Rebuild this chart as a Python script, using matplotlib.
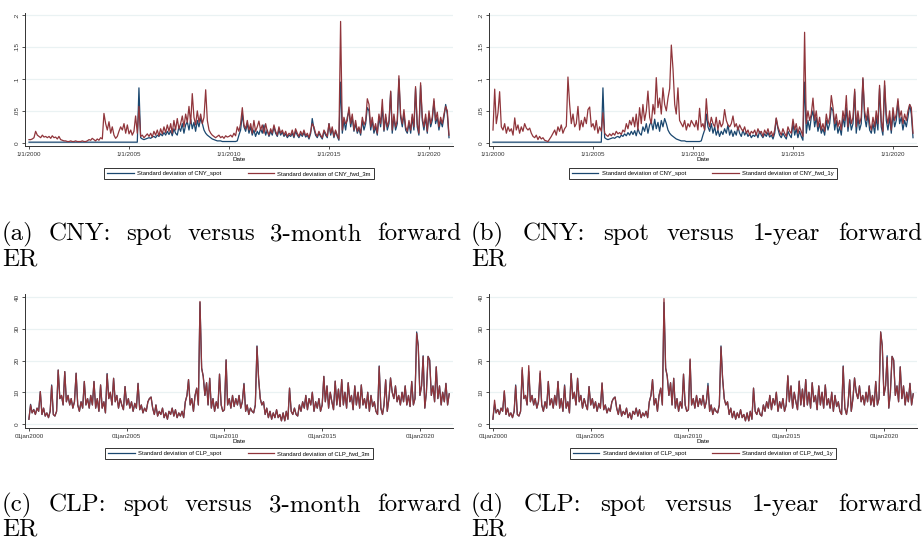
import numpy as np
import pandas as pd
import matplotlib
matplotlib.use("Agg")
import matplotlib.pyplot as plt

# ---------------- data (monthly) ----------------
cny_spot = [
    .001,.001,.001,.001,.001,.001,.001,.001,.001,.001,.001,.001,  # 2000
    .001,.001,.001,.001,.001,.001,.001,.001,.001,.001,.001,.001,  # 2001
    .001,.001,.001,.001,.001,.001,.001,.001,.001,.001,.001,.001,  # 2002
    .001,.001,.001,.001,.001,.001,.001,.001,.001,.001,.001,.001,  # 2003
    .001,.001,.001,.001,.001,.001,.001,.001,.001,.001,.001,.001,  # 2004
    .001,.001,.001,.001,.001,.001,.086,.008,.006,.005,.006,.007,  # 2005
    .008,.007,.009,.010,.008,.012,.010,.014,.011,.016,.012,.018,  # 2006
    .013,.019,.011,.022,.015,.012,.025,.018,.030,.015,.028,.033,  # 2007
    .020,.037,.022,.032,.018,.035,.025,.038,.030,.020,.015,.012,  # 2008
    .010,.008,.006,.005,.004,.003,.003,.003,.002,.002,.002,.002,  # 2009
    .002,.002,.002,.002,.002,.003,.012,.020,.045,.025,.018,.030,  # 2010
    .015,.025,.012,.020,.010,.018,.013,.022,.015,.028,.012,.020,  # 2011
    .010,.018,.012,.025,.015,.010,.020,.012,.017,.010,.014,.008,  # 2012
    .012,.010,.015,.008,.018,.012,.008,.014,.010,.016,.009,.012,  # 2013
    .006,.015,.038,.022,.012,.008,.015,.010,.006,.018,.012,.008,  # 2014
    .030,.012,.022,.008,.018,.010,.004,.095,.015,.035,.020,.040,  # 2015
    .050,.025,.040,.018,.030,.015,.022,.012,.035,.020,.030,.055,  # 2016
    .050,.020,.035,.015,.025,.012,.040,.025,.055,.018,.040,.020,  # 2017
    .030,.080,.015,.040,.020,.030,.100,.040,.025,.045,.020,.015,  # 2018
    .030,.015,.040,.020,.085,.025,.012,.090,.035,.020,.040,.015,  # 2019
    .045,.025,.035,.065,.030,.040,.020,.035,.025,.040,.060,.045,  # 2020
    .008,                                                          # 2021
]
cny_fwd_3m = [
    .005,.005,.006,.008,.018,.012,.010,.008,.012,.009,.010,.008,
    .010,.007,.011,.008,.009,.006,.010,.005,.004,.003,.003,.002,
    .002,.003,.002,.002,.003,.002,.002,.002,.003,.002,.002,.003,
    .005,.004,.007,.005,.003,.006,.004,.008,.006,.046,.030,.020,
    .033,.015,.025,.012,.007,.010,.018,.025,.020,.030,.015,.028,
    .014,.020,.012,.018,.042,.015,.057,.010,.012,.008,.011,.014,
    .010,.015,.009,.018,.012,.020,.011,.022,.014,.025,.016,.028,
    .018,.030,.015,.035,.020,.038,.022,.030,.042,.025,.045,.032,
    .057,.030,.077,.040,.028,.050,.032,.045,.030,.040,.083,.035,
    .020,.015,.012,.010,.008,.010,.012,.008,.010,.007,.011,.009,
    .010,.012,.009,.015,.011,.025,.018,.030,.055,.028,.022,.035,
    .020,.030,.015,.035,.018,.025,.034,.020,.028,.015,.030,.018,
    .012,.022,.015,.028,.018,.012,.025,.015,.020,.012,.018,.010,
    .015,.012,.020,.010,.022,.015,.010,.018,.012,.020,.011,.015,
    .008,.018,.030,.025,.015,.010,.018,.012,.008,.020,.015,.010,
    .030,.015,.025,.010,.020,.012,.006,.190,.020,.040,.030,.035,
    .056,.030,.045,.020,.035,.018,.025,.015,.040,.028,.035,.069,
    .060,.025,.040,.020,.030,.015,.045,.030,.068,.020,.045,.025,
    .035,.081,.020,.045,.025,.035,.105,.045,.030,.052,.025,.018,
    .035,.020,.045,.025,.088,.030,.015,.094,.040,.025,.045,.018,
    .050,.030,.040,.069,.035,.048,.025,.040,.030,.045,.057,.050,
    .012,
]
cny_fwd_1y = [
    .020,.084,.030,.047,.080,.025,.020,.030,.015,.025,.018,.022,
    .012,.039,.020,.028,.015,.025,.018,.030,.023,.020,.023,.015,
    .010,.008,.012,.005,.010,.006,.008,.004,.003,.002,.006,.010,
    .015,.020,.012,.025,.018,.028,.015,.022,.026,.103,.060,.030,
    .045,.025,.030,.057,.020,.035,.025,.040,.030,.052,.056,.025,
    .030,.020,.035,.015,.025,.018,.047,.015,.012,.010,.014,.011,
    .015,.012,.018,.014,.016,.013,.020,.017,.030,.022,.035,.028,
    .040,.025,.045,.020,.055,.030,.060,.035,.050,.081,.040,.030,
    .060,.045,.102,.055,.070,.045,.086,.060,.050,.070,.085,.153,
    .115,.060,.045,.086,.035,.030,.025,.035,.020,.030,.025,.035,
    .030,.025,.035,.020,.054,.025,.030,.020,.069,.035,.025,.040,
    .030,.025,.040,.020,.035,.025,.030,.052,.035,.028,.025,.030,
    .042,.025,.030,.020,.028,.022,.018,.025,.015,.020,.012,.018,
    .015,.020,.012,.022,.015,.018,.010,.020,.014,.022,.012,.018,
    .010,.020,.039,.025,.018,.012,.022,.015,.010,.025,.018,.015,
    .037,.020,.030,.015,.025,.018,.010,.173,.030,.050,.035,.045,
    .070,.035,.050,.025,.040,.020,.030,.018,.045,.030,.040,.074,
    .055,.030,.045,.025,.035,.020,.050,.035,.074,.025,.050,.030,
    .040,.084,.025,.050,.030,.040,.102,.050,.035,.055,.030,.020,
    .040,.025,.050,.030,.090,.035,.018,.097,.045,.030,.050,.020,
    .055,.035,.045,.069,.040,.050,.030,.045,.035,.050,.060,.055,
    .015,
]
clp_spot = [
    1.5, 6.2, 3.5, 4.6, 3.0, 5.0, 4.0, 10.2, 3.0, 5.0, 2.5, 3.5,
    2.0, 4.0, 12.3, 3.0, 2.5, 4.0, 17.0, 8.0, 9.0, 6.0, 16.5, 7.0,
    9.0, 6.0, 8.0, 5.0, 7.0, 16.0, 6.0, 4.0, 7.0, 5.0, 13.4, 6.0,
    8.0, 5.0, 9.0, 6.0, 13.4, 5.0, 8.0, 4.0, 12.3, 5.0, 7.0, 3.5,
    15.9, 8.0, 10.0, 6.0, 14.4, 7.0, 9.0, 5.0, 8.0, 6.0, 4.5, 11.8,
    6.0, 8.0, 5.0, 7.0, 4.0, 6.5, 5.0, 12.8, 4.5, 6.0, 3.5, 5.0,
    4.0, 7.0, 8.0, 8.5, 5.0, 3.0, 6.0, 2.5, 4.0, 3.0, 5.0, 2.0,
    3.5, 1.5, 4.0, 3.0, 5.0, 2.5, 4.5, 2.0, 3.5, 2.5, 4.0, 2.0,
    7.0, 9.0, 14.0, 6.0, 8.0, 4.0, 9.0, 11.3, 6.0, 38.3, 17.6, 15.0,
    9.0, 13.0, 6.0, 14.4, 5.0, 8.0, 4.0, 7.0, 5.0, 15.7, 6.0, 4.0,
    4.5, 20.2, 6.0, 8.0, 5.0, 9.0, 5.5, 8.0, 6.0, 9.0, 5.0, 7.0,
    12.8, 4.0, 6.0, 3.0, 5.0, 4.0, 3.5, 6.0, 24.6, 14.4, 8.0, 6.0,
    7.0, 3.0, 5.0, 2.0, 4.0, 1.5, 3.5, 2.0, 4.5, 2.0, 3.0, 1.0,
    3.5, 1.0, 4.0, 1.5, 11.3, 4.0, 3.0, 5.0, 3.0, 2.5, 6.0, 4.0,
    7.0, 5.0, 9.0, 4.5, 8.0, 6.0, 10.0, 4.0, 7.0, 5.0, 8.0, 4.0,
    6.0, 15.0, 7.0, 12.0, 5.0, 10.0, 7.0, 4.5, 13.5, 6.0, 11.0, 5.5,
    14.0, 6.0, 10.0, 5.0, 13.0, 7.0, 9.0, 4.5, 12.0, 6.0, 10.0, 5.0,
    12.3, 6.0, 8.0, 5.0, 10.0, 4.0, 9.0, 5.5, 7.0, 4.0, 3.0, 18.3,
    5.0, 3.0, 6.0, 13.9, 4.0, 8.0, 14.5, 10.0, 8.0, 12.0, 7.0, 9.0,
    6.0, 10.0, 7.0, 12.0, 6.0, 9.0, 5.5, 13.4, 6.0, 8.0, 29.0, 24.6,
    9.0, 12.0, 21.5, 5.0, 10.0, 21.3, 20.2, 9.0, 12.0, 7.0, 18.0, 8.0,
    12.0, 6.0, 10.0, 7.0, 12.8, 6.0, 9.5,
]
clp_fwd_3m = [
    1.5, 6.0, 3.5, 4.5, 3.0, 5.0, 4.0, 10.2, 3.0, 5.0, 2.5, 3.5,
    2.0, 4.0, 12.0, 3.0, 2.5, 4.0, 17.0, 8.0, 9.0, 6.0, 16.5, 7.0,
    9.0, 6.0, 8.0, 5.0, 7.0, 16.0, 6.0, 4.0, 7.0, 5.0, 13.4, 6.0,
    8.0, 5.0, 9.0, 6.0, 13.4, 5.0, 8.0, 4.0, 12.3, 5.0, 7.0, 3.5,
    15.7, 8.0, 10.0, 6.0, 14.4, 7.0, 9.0, 5.0, 8.0, 6.0, 4.5, 11.8,
    6.0, 8.0, 5.0, 7.0, 4.0, 6.5, 5.0, 12.8, 4.5, 6.0, 3.5, 5.0,
    4.0, 7.0, 8.0, 8.5, 5.0, 3.0, 6.0, 2.5, 4.0, 3.0, 5.0, 2.0,
    3.5, 1.5, 4.0, 3.0, 5.0, 2.5, 4.5, 2.0, 3.5, 2.5, 4.0, 2.0,
    7.0, 9.0, 14.0, 6.0, 8.0, 4.0, 9.0, 11.3, 6.0, 38.6, 17.6, 15.0,
    9.0, 13.0, 6.0, 14.4, 5.0, 8.0, 4.0, 7.0, 5.0, 15.7, 6.0, 4.0,
    4.5, 20.2, 6.0, 8.0, 5.0, 9.0, 5.5, 8.0, 6.0, 9.0, 5.0, 7.0,
    12.6, 4.0, 6.0, 3.0, 5.0, 4.0, 3.5, 6.0, 24.4, 14.4, 8.0, 6.0,
    7.0, 3.0, 5.0, 2.0, 4.0, 1.5, 3.5, 2.0, 4.5, 2.0, 3.0, 1.0,
    3.5, 1.0, 4.0, 1.5, 11.3, 4.0, 3.0, 5.0, 3.0, 2.5, 6.0, 4.0,
    7.0, 5.0, 9.0, 4.5, 8.0, 6.0, 10.0, 4.0, 7.0, 5.0, 8.0, 4.0,
    6.0, 15.0, 7.0, 12.0, 5.0, 10.0, 7.0, 4.5, 13.5, 6.0, 11.0, 5.5,
    14.0, 6.0, 10.0, 5.0, 13.0, 7.0, 9.0, 4.5, 12.0, 6.0, 10.0, 5.0,
    12.3, 6.0, 8.0, 5.0, 10.0, 4.0, 9.0, 5.5, 7.0, 4.0, 3.0, 18.1,
    5.0, 3.0, 6.0, 13.9, 4.0, 8.0, 14.5, 10.0, 8.0, 12.0, 7.0, 9.0,
    6.0, 10.0, 7.0, 12.0, 6.0, 9.0, 5.5, 13.4, 6.0, 8.0, 28.6, 24.4,
    9.0, 12.0, 21.3, 5.0, 10.0, 21.3, 20.0, 9.0, 12.0, 7.0, 18.0, 8.0,
    12.0, 6.0, 10.0, 7.0, 12.8, 6.0, 9.5,
]
clp_fwd_1y = [
    1.5, 7.5, 3.5, 4.5, 3.0, 5.0, 4.0, 10.5, 3.0, 5.0, 2.5, 3.5,
    2.0, 4.0, 12.0, 3.0, 2.5, 4.0, 17.8, 8.0, 9.0, 6.0, 18.4, 7.0,
    9.0, 6.0, 8.0, 5.0, 7.0, 16.7, 6.0, 4.0, 7.0, 5.0, 13.4, 6.0,
    8.0, 5.0, 9.0, 6.0, 13.4, 5.0, 8.0, 4.0, 12.0, 5.0, 7.0, 3.5,
    15.9, 8.0, 10.0, 6.0, 14.4, 7.0, 9.0, 5.0, 8.0, 6.0, 4.5, 11.8,
    6.0, 8.0, 5.0, 7.0, 4.0, 6.5, 5.0, 13.0, 4.5, 6.0, 3.5, 5.0,
    4.0, 7.0, 8.0, 8.5, 5.0, 3.0, 6.0, 2.5, 4.0, 3.0, 5.0, 2.0,
    3.5, 1.5, 4.0, 3.0, 5.0, 2.5, 4.5, 2.0, 3.5, 2.5, 4.0, 2.0,
    7.0, 9.0, 14.0, 6.0, 8.0, 4.0, 9.0, 11.3, 6.0, 39.5, 17.6, 15.0,
    9.0, 13.0, 6.0, 14.4, 5.0, 8.0, 4.0, 7.0, 5.0, 15.7, 6.0, 4.0,
    4.5, 20.5, 6.0, 8.0, 5.0, 9.0, 5.5, 8.0, 6.0, 9.0, 5.0, 7.0,
    12.0, 4.0, 6.0, 3.0, 5.0, 4.0, 3.5, 6.0, 24.3, 14.4, 8.0, 6.0,
    7.0, 3.0, 5.0, 2.0, 4.0, 1.5, 3.5, 2.0, 4.5, 2.0, 3.0, 1.0,
    3.5, 1.0, 4.0, 1.5, 11.3, 4.0, 3.0, 5.0, 3.0, 2.5, 6.0, 4.0,
    7.0, 5.0, 9.0, 4.5, 8.0, 6.0, 10.0, 4.0, 7.0, 5.0, 8.0, 4.0,
    6.0, 15.3, 7.0, 12.0, 5.0, 10.0, 7.0, 4.5, 13.5, 6.0, 11.0, 5.5,
    14.0, 6.0, 10.0, 5.0, 13.0, 7.0, 9.0, 4.5, 12.0, 6.0, 10.0, 5.0,
    12.3, 6.0, 8.0, 5.0, 10.0, 4.0, 9.0, 5.5, 7.0, 4.0, 3.0, 18.1,
    5.0, 3.0, 6.0, 13.9, 4.0, 8.0, 14.5, 10.0, 8.0, 12.0, 7.0, 9.0,
    6.0, 10.0, 7.0, 12.0, 6.0, 9.0, 5.5, 13.4, 6.0, 8.0, 29.0, 24.6,
    9.0, 12.0, 21.0, 5.0, 10.0, 21.3, 20.0, 9.0, 12.0, 7.0, 18.0, 8.0,
    12.0, 6.0, 10.0, 7.0, 12.8, 6.0, 9.5,
]

x_ticks = ["2000-01-01", "2005-01-01", "2010-01-01", "2015-01-01", "2020-01-01"]
cny_ticklabels = ["1/1/2000", "1/1/2005", "1/1/2010", "1/1/2015", "1/1/2020"]
clp_ticklabels = ["01jan2000", "01jan2005", "01jan2010", "01jan2015", "01jan2020"]
cny_yticks = [0, .05, .1, .15, .2]
cny_yticklabels = ["0", ".05", ".1", ".15", ".2"]
clp_yticks = [0, 10, 20, 30, 40]
clp_yticklabels = ["0", "10", "20", "30", "40"]

captions = [
    ("(a) CNY: spot versus 3-month forward", "ER"),
    ("(b) CNY: spot versus 1-year forward", "ER"),
    ("(c) CLP: spot versus 3-month forward", "ER"),
    ("(d) CLP: spot versus 1-year forward", "ER"),
]

NAVY = "#1a476f"
MAROON = "#90353b"
GRID = "#eaf2f3"

W, H = 924, 541
fig = plt.figure(figsize=(W / 100, H / 100), dpi=100)
fig.patch.set_facecolor("white")

def px_axes(x0, y0, x1, y1):
    return fig.add_axes([x0 / W, 1 - y1 / H, (x1 - x0) / W, (y1 - y0) / H])

def dates_for(n):
    return pd.date_range("2000-01-01", periods=n, freq="MS")

def panel(x0, y0, y1, spot, fwd, names, ylim, yticks, yticklabels, xlim, xticklabels, legend_y):
    ax = px_axes(x0, y0, x0 + 428, y1)
    ax.plot(dates_for(len(spot)), spot, color=NAVY, lw=0.9, label=names[0], zorder=3)
    ax.plot(dates_for(len(fwd)), fwd, color=MAROON, lw=0.9, label=names[1], zorder=4)
    ax.set_ylim(*ylim)
    ax.set_xlim(pd.Timestamp(xlim[0]), pd.Timestamp(xlim[1]))
    ax.set_yticks(yticks)
    ax.set_yticklabels(yticklabels, rotation=90, va="center", fontsize=4.6,
                       family="Liberation Sans")
    ax.set_xticks([pd.Timestamp(t) for t in x_ticks])
    ax.set_xticklabels(xticklabels, fontsize=4.5, family="Liberation Sans")
    for yt in yticks:
        ax.axhline(yt, color=GRID, lw=0.9, zorder=1)
    for s in ["top", "right"]:
        ax.spines[s].set_visible(False)
    for s in ["left", "bottom"]:
        ax.spines[s].set_color("#333333")
        ax.spines[s].set_linewidth(0.7)
    ax.tick_params(axis="both", length=2.5, width=0.6, pad=1.5, colors="#333333")
    ax.set_xlabel("Date", fontsize=4.5, family="Liberation Sans", labelpad=0.5)
    leg = ax.legend(loc="upper center", bbox_to_anchor=(0.5, legend_y), ncol=2,
                    frameon=True, fancybox=False, edgecolor="black",
                    prop={"family": "Liberation Sans", "size": 4.2},
                    handlelength=4.5, handletextpad=0.6, columnspacing=4.5,
                    borderpad=0.5, borderaxespad=0)
    leg.get_frame().set_linewidth(0.7)
    for ln in leg.get_lines():
        ln.set_linewidth(0.9)
    return ax

cny_xlim = ("1999-10-20", "2021-03-15")
clp_xlim = ("1999-10-20", "2021-09-10")

panel(25, 13, 146, cny_spot, cny_fwd_3m,
      ["Standard deviation of CNY_spot", "Standard deviation of CNY_fwd_3m"],
      (-0.005, 0.2032), cny_yticks, cny_yticklabels, cny_xlim, cny_ticklabels, -0.165)
panel(489, 13, 146, cny_spot, cny_fwd_1y,
      ["Standard deviation of CNY_spot", "Standard deviation of CNY_fwd_1y"],
      (-0.005, 0.2032), cny_yticks, cny_yticklabels, cny_xlim, cny_ticklabels, -0.165)
panel(25, 294, 428, clp_spot, clp_fwd_3m,
      ["Standard deviation of CLP_spot", "Standard deviation of CLP_fwd_3m"],
      (-1.26, 40.95), clp_yticks, clp_yticklabels, clp_xlim, clp_ticklabels, -0.15)
panel(489, 294, 428, clp_spot, clp_fwd_1y,
      ["Standard deviation of CLP_spot", "Standard deviation of CLP_fwd_1y"],
      (-1.26, 40.95), clp_yticks, clp_yticklabels, clp_xlim, clp_ticklabels, -0.15)

# ---------------- captions (justified first line) ----------------
renderer = fig.canvas.get_renderer()
CAP_SIZE = 18

def justified_line(text, x0, x1, ybase):
    words = text.split(" ")
    objs = [fig.text(0, 1 - ybase / H, w, fontsize=CAP_SIZE, family="cmr10",
                     va="baseline", ha="left") for w in words]
    widths = [o.get_window_extent(renderer).width for o in objs]
    gap = (x1 - x0 - sum(widths)) / (len(words) - 1)
    x = x0
    for o, w in zip(objs, widths):
        o.set_x(x / W)
        x += w + gap

cap_pos = [(2, 461, 240, 265), (471, 922, 240, 265),
           (2, 461, 511, 535), (471, 922, 511, 535)]
for (l1, l2), (x0, x1, yb1, yb2) in zip(captions, cap_pos):
    justified_line(l1, x0, x1, yb1)
    fig.text(x0 / W, 1 - yb2 / H, l2, fontsize=CAP_SIZE, family="cmr10",
             va="baseline", ha="left")

fig.savefig("out.png", dpi=100, facecolor="white")
